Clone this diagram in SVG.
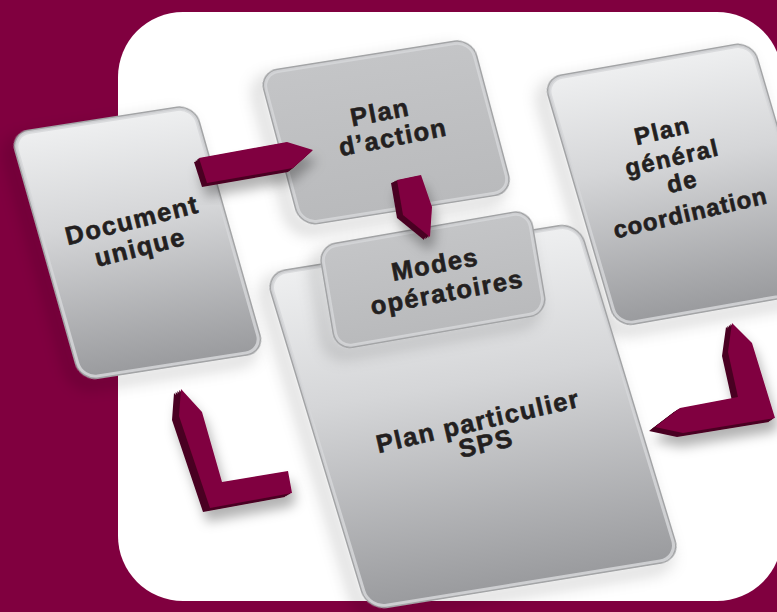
<svg xmlns="http://www.w3.org/2000/svg" width="777" height="612" viewBox="0 0 777 612">
<defs>
<linearGradient id="gL" x1="0" y1="0" x2="0" y2="1">
<stop offset="0" stop-color="#eeeff0"/>
<stop offset="0.4" stop-color="#d5d6d8"/>
<stop offset="1" stop-color="#9a9b9e"/>
</linearGradient>
<linearGradient id="gF" x1="0" y1="0" x2="0" y2="1">
<stop offset="0" stop-color="#c4c5c7"/>
<stop offset="1" stop-color="#b9babc"/>
</linearGradient>
<filter id="sh" x="-30%" y="-30%" width="160%" height="160%">
<feGaussianBlur in="SourceAlpha" stdDeviation="8"/>
<feOffset dx="-9" dy="7" result="b"/>
<feFlood flood-color="#000" flood-opacity="0.3"/>
<feComposite in2="b" operator="in"/>
<feMerge><feMergeNode/><feMergeNode in="SourceGraphic"/></feMerge>
</filter>
<filter id="ash" x="-40%" y="-40%" width="180%" height="180%">
<feGaussianBlur in="SourceAlpha" stdDeviation="6"/>
<feOffset dx="4" dy="10" result="b"/>
<feFlood flood-color="#000" flood-opacity="0.3"/>
<feComposite in2="b" operator="in"/>
<feMerge><feMergeNode/><feMergeNode in="SourceGraphic"/></feMerge>
</filter>
<polygon id="p1" points="199,158 287,142 313,150 293,168 207,183"/>
<polygon id="p2" points="397,180 421,175 432,207 430,237 403,215"/>
<polygon id="p3" points="181,389 202,412 222,482 288,471 292,493 210,508 179,416"/>
<polygon id="p4" points="732,323 752,343 775,418 683,433 655,427 680,408 738,397 728,352"/>
</defs>
<style>
.bd{fill:none;stroke:#a3a4a6;stroke-width:6}
.in{stroke:#d6d7d9;stroke-width:3;stroke-opacity:0.85}
.t{font-family:"Liberation Sans",Arial,Helvetica,sans-serif;font-weight:bold;font-size:25.5px;fill:#231f20;stroke:#231f20;stroke-width:0.6;text-anchor:middle;letter-spacing:1.5px}
.a{fill:#80003f}
.ad{fill:#4a0022}
</style>
<rect width="777" height="612" fill="#80003f"/>
<rect x="118" y="12" width="664" height="589" rx="65" fill="#ffffff"/>

<g id="node-document">
<g transform="matrix(0.988,-0.1537,0.2732,0.962,13,135)">
<rect class="bd" x="0" y="0" width="182" height="253" rx="16" filter="url(#sh)"/>
<rect class="in" x="0" y="0" width="182" height="253" rx="16" fill="url(#gL)"/>
</g>
<text class="t" transform="translate(132,220) rotate(-14)" y="9">Document</text>
<text class="t" transform="translate(140,247) rotate(-14)" y="9">unique</text>
</g>

<g id="node-plan-general">
<g transform="matrix(0.9851,-0.173,0.2819,0.9593,546,80)">
<rect class="bd" x="0" y="0" width="208" height="255" rx="16" filter="url(#sh)"/>
<rect class="in" x="0" y="0" width="208" height="255" rx="16" fill="url(#gL)"/>
</g>
<text class="t" style="font-size:24px" transform="translate(662,130) rotate(-13)" y="9">Plan</text>
<text class="t" style="font-size:24px" transform="translate(672,157) rotate(-13)" y="9">général</text>
<text class="t" style="font-size:24px" transform="translate(682,181) rotate(-13)" y="9">de</text>
<text class="t" style="font-size:24px;letter-spacing:1px" transform="translate(690,212) rotate(-13)" y="9">coordination</text>
</g>

<g id="node-sps">
<g transform="matrix(0.9872,-0.1597,0.2902,0.9569,268,275)">
<rect class="bd" x="0" y="0" width="313" height="348" rx="18" filter="url(#sh)"/>
<rect class="in" x="0" y="0" width="313" height="348" rx="18" fill="url(#gL)"/>
</g>
<text class="t" transform="translate(478,421) rotate(-13)" y="9">Plan particulier</text>
<text class="t" transform="translate(486,443) rotate(-13)" y="9">SPS</text>
</g>

<g id="node-modes">
<g transform="matrix(0.9852,-0.1713,0.1676,0.9861,321,248)">
<rect class="bd" x="0" y="0" width="210" height="101" rx="15" filter="url(#sh)"/>
<rect class="in" x="0" y="0" width="210" height="101" rx="15" fill="url(#gF)"/>
</g>
<text class="t" transform="translate(435,264) rotate(-10.5)" y="9">Modes</text>
<text class="t" transform="translate(447,292) rotate(-10.5)" y="9">opératoires</text>
</g>

<g id="node-plan-action">
<g transform="matrix(0.9877,-0.1567,0.2577,0.9665,262,74)">
<rect class="bd" x="0" y="0" width="211" height="155" rx="16" filter="url(#sh)"/>
<rect class="in" x="0" y="0" width="211" height="155" rx="16" fill="url(#gF)"/>
</g>
<text class="t" transform="translate(380,112) rotate(-11)" y="9">Plan</text>
<text class="t" transform="translate(393,137) rotate(-11)" y="9">d’action</text>
</g>

<g id="connectors">
<g id="arrow-doc-action" filter="url(#ash)">
<use href="#p1" class="ad" transform="translate(-5,4)"/>
<use href="#p1" class="ad" transform="translate(-3.5,2.8)"/>
<use href="#p1" class="ad" transform="translate(-2,1.6)"/>
<use href="#p1" class="ad" transform="translate(-1,0.8)"/>
<use href="#p1" class="a"/>
</g>
<g id="arrow-action-modes" filter="url(#ash)">
<use href="#p2" class="ad" transform="translate(-6,3)"/>
<use href="#p2" class="ad" transform="translate(-4.5,2.2)"/>
<use href="#p2" class="ad" transform="translate(-3,1.5)"/>
<use href="#p2" class="ad" transform="translate(-1.5,0.7)"/>
<use href="#p2" class="a"/>
</g>
<g id="arrow-sps-doc" filter="url(#ash)">
<use href="#p3" class="ad" transform="translate(-7,4)"/>
<use href="#p3" class="ad" transform="translate(-5.2,3)"/>
<use href="#p3" class="ad" transform="translate(-3.5,2)"/>
<use href="#p3" class="ad" transform="translate(-1.7,1)"/>
<use href="#p3" class="a"/>
</g>
<g id="arrow-general-sps" filter="url(#ash)">
<use href="#p4" class="ad" transform="translate(-6,4)"/>
<use href="#p4" class="ad" transform="translate(-4.5,3)"/>
<use href="#p4" class="ad" transform="translate(-3,2)"/>
<use href="#p4" class="ad" transform="translate(-1.5,1)"/>
<use href="#p4" class="a"/>
</g>
</g>
</svg>
